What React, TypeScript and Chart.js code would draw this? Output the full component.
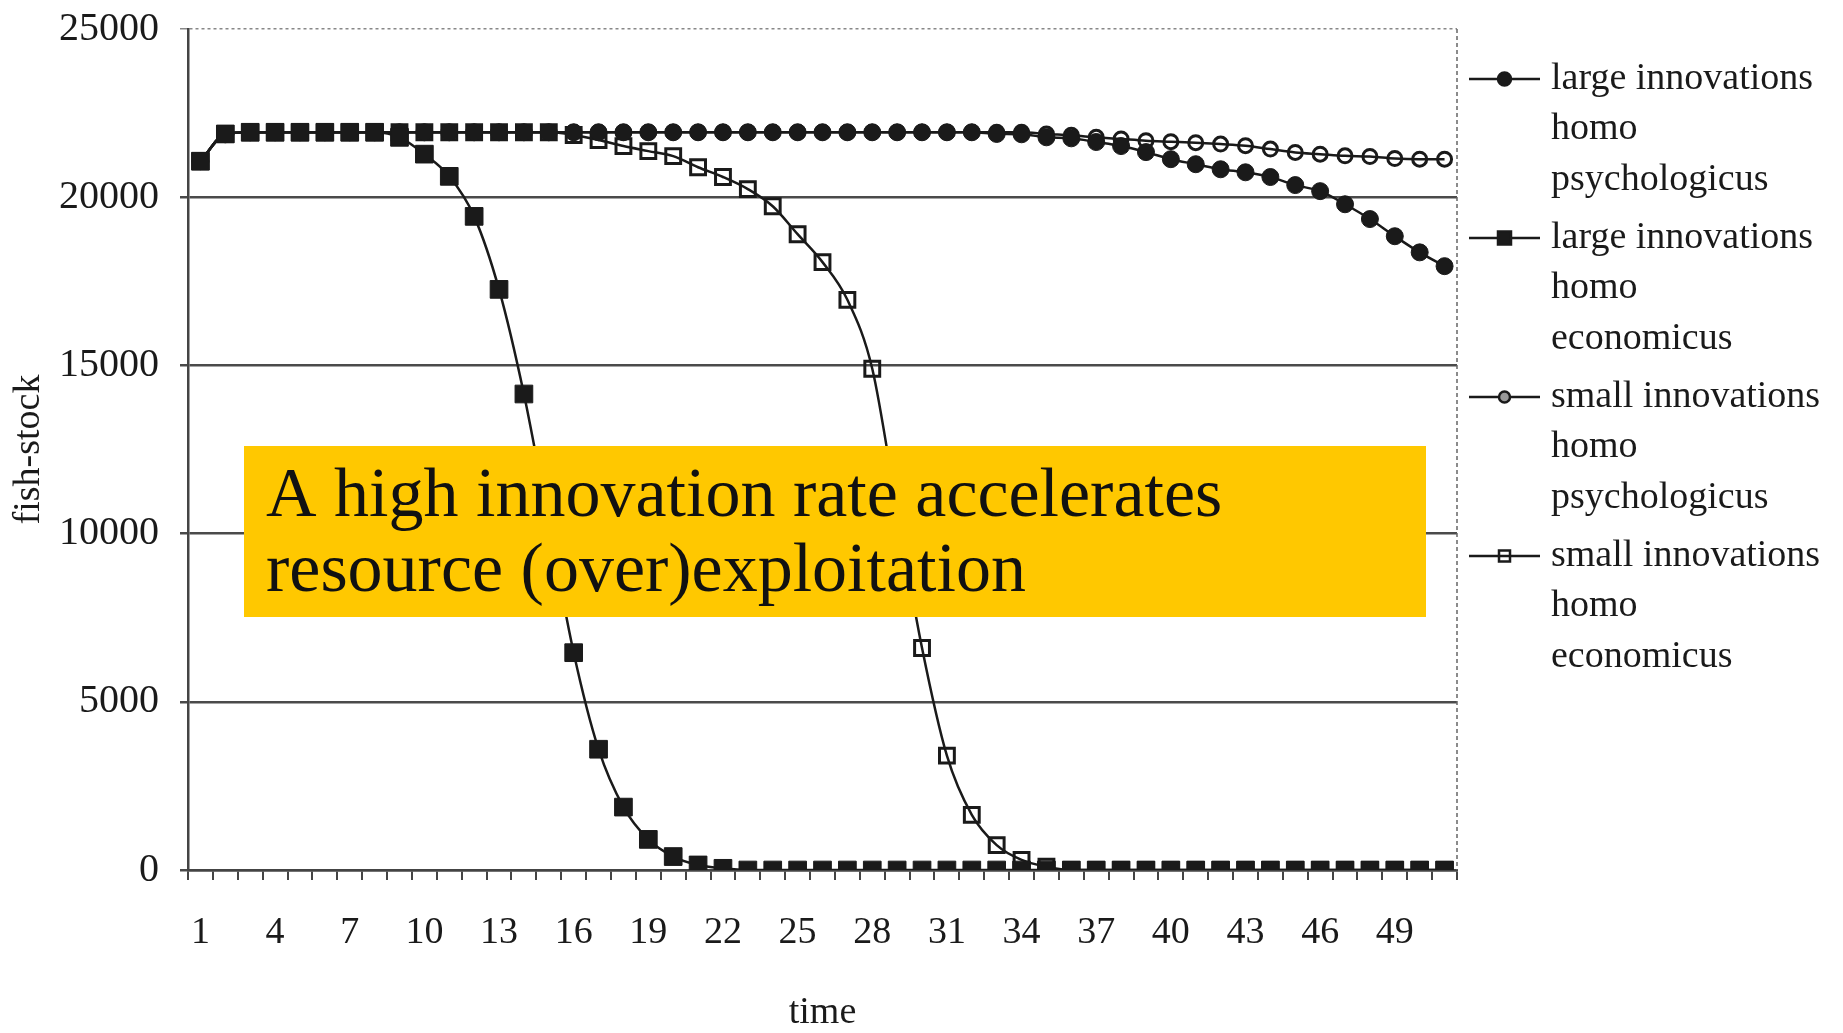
import React, { useEffect, useRef } from 'react';
import { Chart, registerables } from 'chart.js';

Chart.register(...registerables);

// ---------- data ----------
const timeLabels = [
  '1','2','3','4','5','6','7','8','9','10','11','12','13','14','15','16','17','18','19','20',
  '21','22','23','24','25','26','27','28','29','30','31','32','33','34','35','36','37','38','39','40',
  '41','42','43','44','45','46','47','48','49','50','51'
];

const largePsychologicus = [
  21070, 21870, 21930, 21930, 21930, 21930, 21930, 21930, 21930, 21930,
  21930, 21930, 21930, 21930, 21930, 21930, 21930, 21930, 21930, 21930,
  21930, 21930, 21930, 21930, 21930, 21930, 21930, 21930, 21930, 21930,
  21930, 21930, 21880, 21870, 21780, 21750, 21640, 21520, 21340, 21130,
  20980, 20830, 20740, 20600, 20360, 20180, 19790, 19350, 18840, 18360,
  17950
];

const largeEconomicus = [
  21070, 21880, 21930, 21930, 21930, 21930, 21930, 21930, 21780, 21280,
  20620, 19430, 17260, 14150, 10300, 6460, 3590, 1870, 910, 400,
  150, 50, 0, 0, 0, 0, 0, 0, 0, 0,
  0, 0, 0, 0, 0, 0, 0, 0, 0, 0,
  0, 0, 0, 0, 0, 0, 0, 0, 0, 0,
  0
];

const smallPsychologicus = [
  21070, 21870, 21930, 21930, 21930, 21930, 21930, 21930, 21930, 21930,
  21930, 21930, 21930, 21930, 21930, 21930, 21930, 21930, 21930, 21930,
  21930, 21930, 21930, 21930, 21930, 21930, 21930, 21930, 21930, 21930,
  21930, 21930, 21930, 21930, 21880, 21840, 21780, 21730, 21680, 21650,
  21620, 21580, 21530, 21430, 21330, 21280, 21230, 21210, 21150, 21130,
  21130
];

const smallEconomicus = [
  21070, 21880, 21930, 21930, 21930, 21930, 21930, 21930, 21930, 21930,
  21930, 21930, 21930, 21930, 21930, 21850, 21700, 21520, 21370, 21220,
  20890, 20600, 20240, 19730, 18900, 18070, 16950, 14900, 10700, 6600,
  3400, 1640, 740, 300, 100, 0, 0, 0, 0, 0,
  0, 0, 0, 0, 0, 0, 0, 0, 0, 0,
  0
];

const legendNames = [
  ['large innovations', 'homo', 'psychologicus'],
  ['large innovations', 'homo', 'economicus'],
  ['small innovations', 'homo', 'psychologicus'],
  ['small innovations', 'homo', 'economicus'],
];

const yMin = 0;
const yMax = 25000;
const yStep = 5000;

const calloutLines = ['A high innovation rate accelerates', 'resource (over)exploitation'];

const SERIF = "'Liberation Serif', 'Times New Roman', serif";
const INK = '#1a1a1a';

// ---------- plugins ----------
const frameAndLegend = {
  id: 'frameAndLegend',
  beforeDatasetsDraw(chart: any) {
    const { ctx, chartArea } = chart;
    ctx.save();
    ctx.strokeStyle = '#666';
    ctx.lineWidth = 1.5;
    ctx.setLineDash([4, 3]);
    ctx.beginPath();
    ctx.moveTo(chartArea.right, chartArea.top);
    ctx.lineTo(chartArea.right, chartArea.bottom);
    ctx.stroke();
    ctx.restore();
  },
  afterDraw(chart: any) {
    const { ctx, chartArea } = chart;
    ctx.save();
    // callout box
    const bx = 244, by = 446, bw = 1182, bh = 171;
    ctx.fillStyle = '#FFC800';
    ctx.fillRect(bx, by, bw, bh);
    ctx.fillStyle = '#111';
    ctx.font = `70px ${SERIF}`;
    ctx.textAlign = 'left';
    ctx.textBaseline = 'alphabetic';
    ctx.fillText(calloutLines[0], bx + 22, by + 70);
    ctx.fillText(calloutLines[1], bx + 22, by + 145);

    // legend
    const lx0 = chartArea.right + 12;
    const lx1 = chartArea.right + 83;
    const mx = (lx0 + lx1) / 2;
    const tx = chartArea.right + 94;
    const firstY = 79;
    const entryGap = 159;
    const lineGap = 50.5;
    ctx.font = `38px ${SERIF}`;
    ctx.textBaseline = 'middle';
    chart.data.datasets.forEach((ds: any, i: number) => {
      const y = firstY + i * entryGap;
      ctx.setLineDash([]);
      ctx.strokeStyle = INK;
      ctx.lineWidth = 2.5;
      ctx.beginPath();
      ctx.moveTo(lx0, y);
      ctx.lineTo(lx1, y);
      ctx.stroke();
      ctx.beginPath();
      if (ds.pointStyle === 'rect') {
        const s = i === 1 ? 13 : 11;
        ctx.rect(mx - s / 2, y - s / 2, s, s);
      } else {
        ctx.arc(mx, y, i === 0 ? 6.5 : 5.5, 0, Math.PI * 2);
      }
      if (i < 2) {
        ctx.fillStyle = INK;
        ctx.fill();
      } else if (i === 2) {
        ctx.fillStyle = '#999';
        ctx.fill();
      }
      ctx.lineWidth = 2.5;
      ctx.stroke();
      ctx.fillStyle = INK;
      legendNames[i].forEach((t, k) => {
        ctx.fillText(t, tx, y + k * lineGap);
      });
    });
    ctx.restore();
  },
};

export default function App() {
  const canvasRef = useRef<HTMLCanvasElement | null>(null);

  useEffect(() => {
    const canvas = canvasRef.current;
    if (!canvas) return;
    const chart = new Chart(canvas, {
      type: 'line',
      data: {
        labels: timeLabels,
        datasets: [
          {
            label: legendNames[0].join(' '),
            data: largePsychologicus,
            borderColor: INK,
            borderWidth: 2.5,
            pointStyle: 'circle',
            pointRadius: 8.5,
            pointBackgroundColor: INK,
            pointBorderColor: INK,
            pointBorderWidth: 1,
            cubicInterpolationMode: 'monotone',
            order: 1,
          },
          {
            label: legendNames[1].join(' '),
            data: largeEconomicus,
            borderColor: INK,
            borderWidth: 2.5,
            pointStyle: 'rect',
            pointRadius: 12.5,
            pointBackgroundColor: INK,
            pointBorderColor: INK,
            pointBorderWidth: 1,
            cubicInterpolationMode: 'monotone',
            order: 0,
          },
          {
            label: legendNames[2].join(' '),
            data: smallPsychologicus,
            borderColor: INK,
            borderWidth: 2.5,
            pointStyle: 'circle',
            pointRadius: 7,
            pointBackgroundColor: 'rgba(0,0,0,0)',
            pointBorderColor: INK,
            pointBorderWidth: 3,
            cubicInterpolationMode: 'monotone',
            order: 3,
          },
          {
            label: legendNames[3].join(' '),
            data: smallEconomicus,
            borderColor: INK,
            borderWidth: 2.5,
            pointStyle: 'rect',
            pointRadius: 10.5,
            pointBackgroundColor: 'rgba(0,0,0,0)',
            pointBorderColor: INK,
            pointBorderWidth: 3,
            cubicInterpolationMode: 'monotone',
            order: 2,
          },
        ],
      },
      options: {
        responsive: false,
        animation: false,
        events: [],
        layout: { padding: { left: 0, right: 386, top: 29, bottom: 0 } },
        plugins: {
          legend: { display: false },
          tooltip: { enabled: false },
          title: { display: false },
        },
        scales: {
          x: {
            type: 'category',
            offset: true,
            grid: {
              display: true,
              drawOnChartArea: false,
              drawTicks: true,
              tickLength: 10,
              offset: true,
              color: '#444',
              lineWidth: 2,
            },
            border: { display: true, color: '#444', width: 2.5 },
            ticks: {
              autoSkip: false,
              maxRotation: 0,
              minRotation: 0,
              padding: 30,
              color: INK,
              font: { family: SERIF, size: 38, lineHeight: 1.2 },
              callback: function (this: any, val: any, idx: number) {
                return idx % 3 === 0 ? this.getLabelForValue(val) : '';
              },
            },
            title: {
              display: true,
              text: 'time',
              color: INK,
              font: { family: SERIF, size: 38, lineHeight: 1 },
              padding: { top: 0, bottom: 1 },
            },
            afterFit: (s: any) => { s.height = 163; },
          },
          y: {
            min: yMin,
            max: yMax,
            ticks: {
              stepSize: yStep,
              padding: 21,
              color: INK,
              font: { family: SERIF, size: 40 },
              callback: (v: any) => String(v),
            },
            grid: {
              drawTicks: true,
              tickLength: 8,
              color: (c: any) => (c.tick && c.tick.value === yMax ? '#888' : '#4a4a4a'),
              lineWidth: (c: any) => (c.tick && c.tick.value === yMax ? 1.5 : 2.5),
            },
            border: {
              display: true,
              color: '#444',
              width: 2.5,
              dash: (c: any) => (c.type === 'tick' && c.tick && c.tick.value === yMax ? [3, 3] : []),
            },
            title: {
              display: true,
              text: 'fish-stock',
              color: INK,
              font: { family: SERIF, size: 38, lineHeight: 1 },
              padding: { top: 10, bottom: 0 },
            },
            afterFit: (s: any) => {
              s.width = 188;
              s.paddingTop = 0;
              s.paddingBottom = 0;
            },
          },
        },
      },
      plugins: [frameAndLegend],
    } as any);
    return () => chart.destroy();
  }, []);

  return (
    <div style={{ position: 'fixed', left: 0, top: 0, width: 1843, height: 1033, background: '#fff' }}>
      <canvas ref={canvasRef} width={1843} height={1033} style={{ display: 'block' }} />
    </div>
  );
}
